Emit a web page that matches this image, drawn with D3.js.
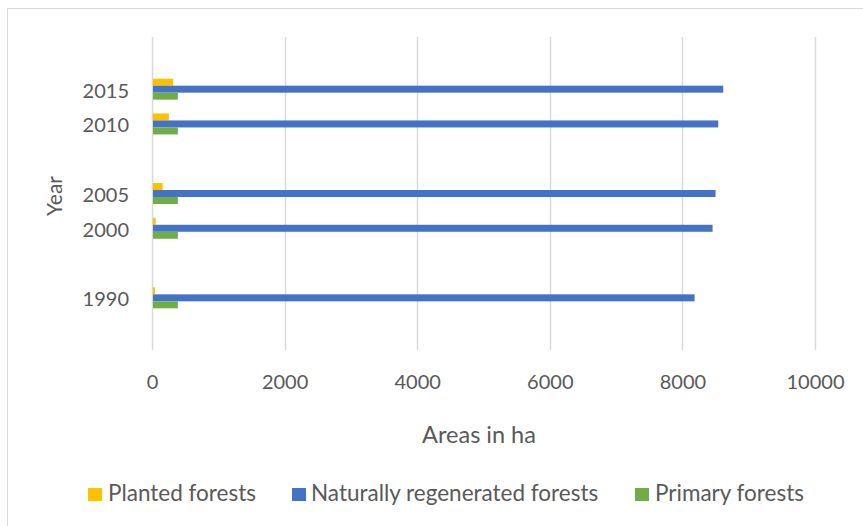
<!DOCTYPE html>
<html><head><meta charset="utf-8">
<script src="https://cdn.jsdelivr.net/npm/d3@7"></script>
<style>
html,body{margin:0;padding:0;background:#fff;}
svg{display:block;}
text{font-family:Lato,"Open Sans",sans-serif;fill:#595959;}
</style></head>
<body>
<svg id="chart" width="863" height="526"></svg>
<script>
// ---- data ----
const years = ["1990", "2000", "2005", "2010", "2015"];
// category slots of the original axis (empty slots left blank)
const yearSlots = ["", "1990", " ", "2000", "2005", "  ", "2010", "2015", "   "];
const seriesNames = ["Planted forests", "Naturally regenerated forests", "Primary forests"];
const planted = [45, 55, 160, 255, 320];
const naturallyRegenerated = [8184, 8455, 8500, 8541, 8616];
const primary = [390, 390, 390, 390, 390];
const xTicks = [0, 2000, 4000, 6000, 8000, 10000];
const colors = ["#FFC000", "#4472C4", "#70AD47"];

const svg = d3.select("#chart");
const M = {left: 152, right: 815, top: 37, bottom: 350};

// outer border
svg.append("rect").attr("x", 7.5).attr("y", 8.5).attr("width", 870).attr("height", 530)
  .attr("fill", "none").attr("stroke", "#D9D9D9").attr("stroke-width", 1);

const x = d3.scaleLinear().domain([0, 10000]).range([M.left, M.right]);
const y = d3.scaleBand().domain(yearSlots.slice().reverse()).range([M.top, M.bottom]).padding(0);
const inner = d3.scaleBand().domain(seriesNames).range([-10.5, 10.5]);

// gridlines
svg.append("g").selectAll("line").data(xTicks).join("line")
  .attr("x1", d => Math.round(x(d)) + 0.5).attr("x2", d => Math.round(x(d)) + 0.5)
  .attr("y1", M.top).attr("y2", M.bottom)
  .attr("stroke", "#D9D9D9").attr("stroke-width", 1.5);

// bars
const seriesValues = [planted, naturallyRegenerated, primary];
seriesNames.forEach((s, si) => {
  svg.append("g").selectAll("rect").data(years).join("rect")
    .attr("x", x(0) + 1)
    .attr("y", (d) => y(d) + y.bandwidth() / 2 + inner(s))
    .attr("width", (d, i) => x(seriesValues[si][i]) - x(0) - 1)
    .attr("height", inner.bandwidth())
    .attr("fill", colors[si]);
});

// x axis labels
const xAxis = d3.axisBottom(x).tickValues(xTicks).tickSize(0).tickPadding(0).tickFormat(d3.format("d"));
const gx = svg.append("g").attr("transform", `translate(0,${M.bottom + 39})`).call(xAxis);
gx.select(".domain").remove();
gx.selectAll("text").attr("font-size", 20).attr("dy", 0).attr("fill", "#595959")
  .style("font-family", "Lato");

// y axis labels
const yAxis = d3.axisLeft(y).tickValues(years).tickSize(0).tickPadding(0);
const gy = svg.append("g").attr("transform", `translate(${129},0)`).call(yAxis);
gy.select(".domain").remove();
gy.selectAll("text").attr("font-size", 20).attr("dy", "0.42em").attr("fill", "#595959")
  .style("font-family", "Lato");

// titles
svg.append("text").attr("x", 479).attr("y", 443).attr("text-anchor", "middle")
  .attr("font-size", 23.5).text("Areas in ha");
svg.append("text").attr("transform", "translate(62,196) rotate(-90)").attr("text-anchor", "middle")
  .attr("font-size", 21).text("Year");

// legend
const legendX = [88, 292, 635];
const legendTextX = [108, 311, 655];
const lg = svg.append("g");
seriesNames.forEach((s, i) => {
  lg.append("rect").attr("x", legendX[i]).attr("y", 488).attr("width", 14).attr("height", 13).attr("fill", colors[i]);
  lg.append("text").attr("x", legendTextX[i]).attr("y", 501).attr("font-size", 22.5).text(s);
});
</script>
</body></html>
